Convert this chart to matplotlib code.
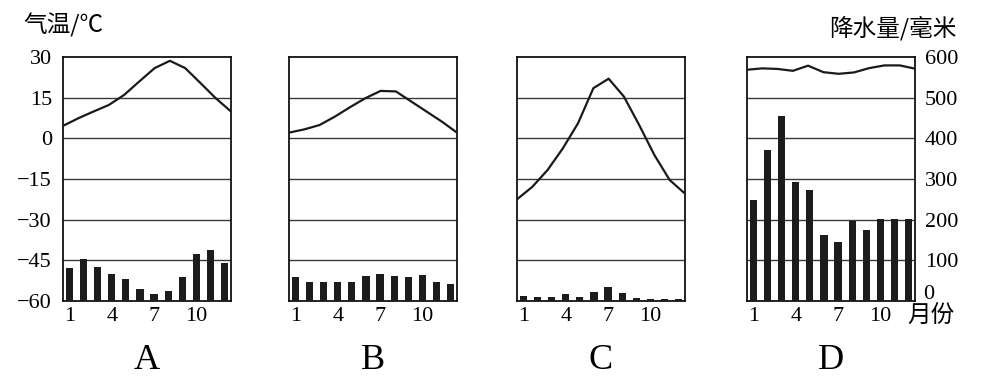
import matplotlib
matplotlib.use('Agg')
import matplotlib.pyplot as plt
import numpy as np

months = np.arange(1, 13)
panel_names = ['A', 'B', 'C', 'D']

# 气温 (℃), monthly
temp_a = [4.6, 7.4, 9.9, 12.3, 16.0, 21.0, 25.9, 28.6, 25.9, 20.4, 14.8, 9.9]
temp_b = [2.1, 3.3, 4.9, 8.0, 11.5, 14.8, 17.5, 17.3, 13.6, 9.9, 6.2, 2.1]
temp_c = [-22.5, -17.9, -11.7, -3.7, 5.6, 18.5, 22.0, 15.4, 4.9, -6.2, -15.4, -20.4]
temp_d = [25.3, 25.8, 25.6, 24.9, 26.8, 24.4, 23.8, 24.3, 25.9, 26.9, 26.9, 25.7]

# 降水量 (毫米), monthly
rain_a = [80, 104, 84, 67, 53, 30, 16, 25, 59, 115, 125, 94]
rain_b = [59, 47, 47, 47, 47, 61, 66, 62, 59, 64, 47, 43]
rain_c = [13, 11, 11, 16, 11, 21, 35, 20, 7, 6, 6, 6]
rain_d = [248, 371, 454, 293, 273, 162, 144, 196, 174, 201, 201, 201]

temp_ticks = [-60, -45, -30, -15, 0, 15, 30]
rain_ticks = [0, 100, 200, 300, 400, 500, 600]
month_ticks = [1, 4, 7, 10]

temps = [temp_a, temp_b, temp_c, temp_d]
rains = [rain_a, rain_b, rain_c, rain_d]

W, H = 983, 381
fig = plt.figure(figsize=(W / 100, H / 100), dpi=100)

serif = 'Liberation Serif'
cjk = ['Noto Sans CJK SC', 'DejaVu Sans']

lefts = [63, 289, 517, 747]
pw, ph = 168, 244
bottom_px = 301

for i in range(4):
    rect = [lefts[i] / W, 1 - bottom_px / H, pw / W, ph / H]

    # bars: precipitation
    ax = fig.add_axes(rect)
    ax.bar(months, rains[i], width=0.52, color='#1c1c1c', zorder=3)
    ax.set_xlim(0.55, 12.45)
    ax.set_ylim(0, 600)
    for y in rain_ticks[1:-1]:
        ax.axhline(y, color='#3a3a3a', lw=1.0, zorder=1)
    ax.set_xticks(month_ticks)
    ax.set_xticklabels([str(m) for m in month_ticks], fontfamily=serif, fontsize=16)
    ax.tick_params(axis='x', length=0, pad=4)
    for s in ax.spines.values():
        s.set_linewidth(1.3)
        s.set_color('#111111')
    if i == 3:
        ax.yaxis.tick_right()
        ax.set_yticks(rain_ticks)
        ax.set_yticklabels([''] + [str(v) for v in rain_ticks[1:]],
                           fontfamily=serif, fontsize=16)
        ax.tick_params(axis='y', length=0, pad=7)
        ax.text(1.05, 0.025, '0', transform=ax.transAxes, fontfamily=serif,
                fontsize=16, ha='left', va='center')
        ax.text(0.955, -0.06, '月份', transform=ax.transAxes, family=cjk,
                fontsize=17, ha='left', va='center')
        ax.text(0.865, 1.12, '降水量/毫米', transform=ax.transAxes, family=cjk,
                fontsize=17, ha='center', va='center')
    else:
        ax.set_yticks([])

    # line: temperature
    ax2 = fig.add_axes(rect, frameon=False)
    ax2.plot(months, temps[i], color='#1a1a1a', lw=1.6)
    ax2.set_xlim(1, 12)
    ax2.set_ylim(-60, 30)
    ax2.set_xticks([])
    if i == 0:
        ax2.set_yticks(temp_ticks)
        ax2.set_yticklabels([str(v).replace('-', '\u2212') for v in temp_ticks],
                            fontfamily=serif, fontsize=16)
        ax2.tick_params(axis='y', length=0, pad=8)
        ax2.text(0.0, 1.13, '气温/℃', transform=ax2.transAxes, family=cjk,
                 fontsize=17, ha='center', va='center')
    else:
        ax2.set_yticks([])

    ax.text(0.5, -0.245, panel_names[i], transform=ax.transAxes, fontfamily=serif,
            fontsize=26, ha='center', va='center')

fig.savefig('out.png', dpi=100)
